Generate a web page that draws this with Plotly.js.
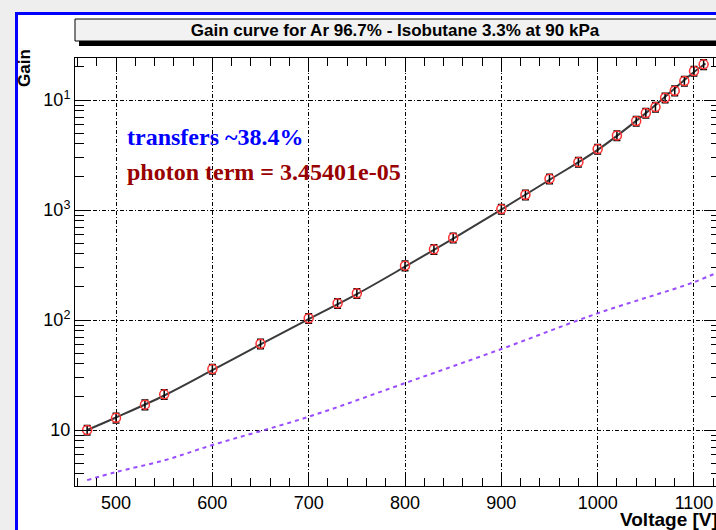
<!DOCTYPE html>
<html>
<head>
<meta charset="utf-8">
<script src="https://cdn.plot.ly/plotly-3.0.1.min.js"></script>
<style>
  html, body { margin: 0; padding: 0; overflow: hidden; background: #eeeeee; width: 716px; height: 530px; }
  #frame { position: absolute; left: 15px; top: 12px; width: 800px; height: 600px; background: #ffffff;
           border-left: 3px solid #0000ff; border-top: 3px solid #0000ff; }
  #chart { position: absolute; left: 0; top: 0; }
</style>
</head>
<body>
<div id="frame"></div>
<div id="chart"></div>
<script>
// Measured data (voltage in V, gain)
const voltage = [470, 500, 530, 550, 600, 650, 700, 730, 750, 800, 830, 850, 900, 925, 950, 980, 1000, 1020, 1040, 1050, 1060, 1070, 1080, 1090, 1100, 1110];
const gain    = [10.0, 12.9, 17.0, 21.1, 35.9, 60.9, 103.6, 142, 175, 312, 440, 560, 1021, 1377, 1926, 2730, 3589, 4753, 6440, 7620, 8640, 10500, 12160, 14890, 18360, 21100];
const gainErrPct = [12, 13, 12, 13, 13, 12, 12, 12, 12, 12, 12, 12, 13, 12, 12, 11, 12, 11, 11, 11, 11, 11, 11, 11, 10, 10];

// Fit curve
const fitVoltage = [470, 500, 550, 600, 650, 700, 750, 800, 850, 900, 950, 1000, 1050, 1100, 1112];
const fitGain    = [10.0, 13.0, 20.6, 35.0, 60.0, 102, 172, 305, 550, 1010, 1880, 3520, 7600, 18000, 21500];

// Photon-term curve (dashed violet)
const photonVoltage = [470, 500, 550, 600, 700, 800, 900, 1000, 1100, 1130];
const photonGain    = [3.5, 4.15, 5.3, 7.3, 13.2, 26.7, 54.5, 115, 221, 285];

const titleText = "Gain curve for Ar 96.7% - Isobutane 3.3% at 90 kPa";
const yTickVals = [10, 100, 1000, 10000];
const yTickText = ["10", "10<sup>2</sup>", "10<sup>3</sup>", "10<sup>1</sup>"];
const xTickVals = [500, 600, 700, 800, 900, 1000, 1100];
const noteTransfers = "transfers ~38.4%";
const notePhoton = "photon term = 3.45401e-05";

const W = 745, H = 530, ML = 75, MR = 25, MT = 58, MB = 44;
const PW = W - ML - MR, PH = H - MT - MB;
const px = (p) => (p - ML) / PW;          // page x pixel -> paper
const py = (p) => (H - MB - p) / PH;      // page y pixel -> paper

const traces = [
  {
    x: photonVoltage, y: photonGain, mode: 'lines', type: 'scatter',
    line: { color: '#9a4dff', width: 2, dash: '4px,4px', shape: 'spline' },
    hoverinfo: 'skip', showlegend: false
  },
  {
    x: fitVoltage, y: fitGain, mode: 'lines', type: 'scatter',
    line: { color: '#3a3a3a', width: 2, shape: 'spline' },
    hoverinfo: 'skip', showlegend: false
  },
  {
    x: voltage, y: gain, mode: 'markers', type: 'scatter',
    marker: { symbol: 'circle-open', size: 9, color: '#ff3030', line: { width: 1.5, color: '#ff3030' } },
    error_y: { type: 'percent', array: gainErrPct, visible: true, color: '#000000', thickness: 1.5, width: 3.5 },
    showlegend: false
  }
];

const axisCommon = {
  showline: true, linecolor: '#000000', linewidth: 1, mirror: 'allticks',
  ticks: 'inside', tickcolor: '#000000', tickwidth: 1,
  showgrid: true, gridcolor: '#000000', gridwidth: 1, griddash: '4px,2px,1px,2px',
  zeroline: false,
  tickfont: { family: 'Liberation Sans, Arial, sans-serif', size: 18, color: '#000000' }
};

const layout = {
  width: W, height: H,
  margin: { l: ML, r: MR, t: MT, b: MB },
  paper_bgcolor: 'rgba(0,0,0,0)', plot_bgcolor: '#ffffff',
  showlegend: false,
  title: {
    text: titleText, xref: 'container', yref: 'container',
    x: 395 / W, y: 1 - 30 / H, xanchor: 'center', yanchor: 'middle',
    font: { family: 'Liberation Sans, Arial, sans-serif', size: 17, color: '#000000', weight: 'bold' }
  },
  xaxis: Object.assign({}, axisCommon, {
    type: 'linear', range: [457.4, 1127],
    tickvals: xTickVals, ticklen: 14,
    minor: { dtick: 20, ticks: 'inside', ticklen: 8, tickcolor: '#000000', showgrid: false },
    title: { text: '' }
  }),
  yaxis: Object.assign({}, axisCommon, {
    type: 'log', range: [0.491, 4.382],
    tickvals: yTickVals, ticktext: yTickText, ticklen: 16,
    minor: { dtick: 'D1', ticks: 'inside', ticklen: 9, tickcolor: '#000000', showgrid: false },
    title: { text: '' }
  }),
  shapes: [
    { type: 'rect', xref: 'paper', yref: 'paper', x0: px(79), x1: px(724), y0: py(46), y1: py(39),
      fillcolor: '#000000', line: { width: 0 }, layer: 'above' },
    { type: 'rect', xref: 'paper', yref: 'paper', x0: 0, x1: 1, y0: py(41), y1: py(19),
      fillcolor: '#f2f2f2', line: { color: '#000000', width: 1 }, layer: 'above' }
  ],
  annotations: [
    { text: noteTransfers, xref: 'paper', yref: 'paper', x: px(125), y: py(137),
      xanchor: 'left', yanchor: 'middle', showarrow: false,
      font: { family: 'Liberation Serif, Times New Roman, serif', size: 24, color: '#0000ff', weight: 'bold' } },
    { text: notePhoton, xref: 'paper', yref: 'paper', x: px(125), y: py(172),
      xanchor: 'left', yanchor: 'middle', showarrow: false,
      font: { family: 'Liberation Serif, Times New Roman, serif', size: 24, color: '#990000', weight: 'bold' } },
    { text: 'Gain', xref: 'paper', yref: 'paper', x: px(25), y: py(68),
      xanchor: 'center', yanchor: 'middle', textangle: -90, showarrow: false,
      font: { family: 'Liberation Sans, Arial, sans-serif', size: 17, color: '#000000', weight: 'bold' } },
    { text: 'Voltage [V]', xref: 'paper', yref: 'paper', x: 1, y: py(519),
      xanchor: 'right', yanchor: 'middle', showarrow: false,
      font: { family: 'Liberation Sans, Arial, sans-serif', size: 19, color: '#000000', weight: 'bold' } }
  ]
};

Plotly.newPlot('chart', traces, layout, { displayModeBar: false, staticPlot: true });
</script>
</body>
</html>
